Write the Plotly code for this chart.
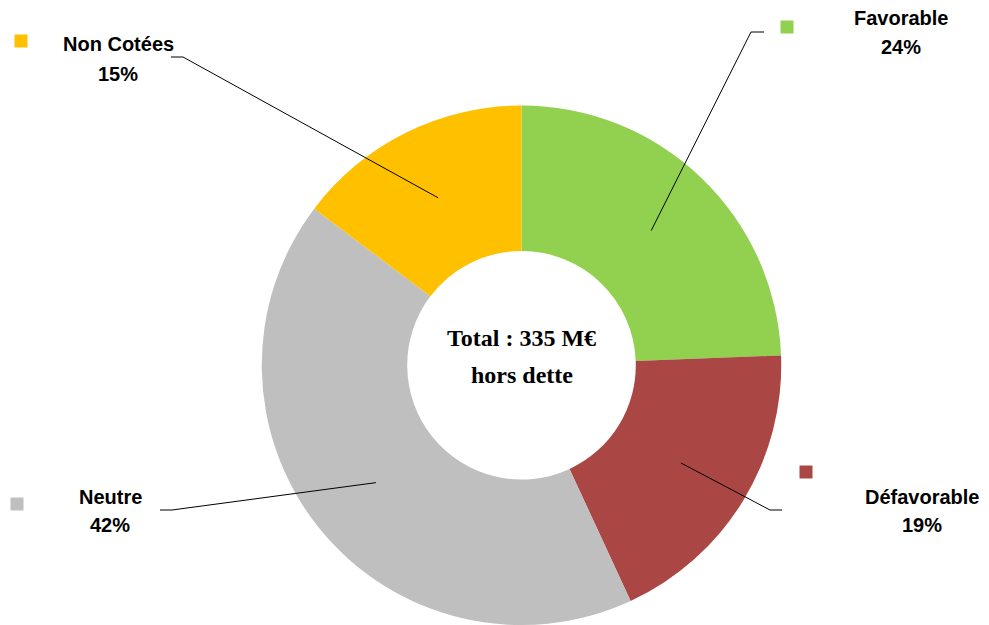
import math
import plotly.graph_objects as go

categories = ["Favorable", "Défavorable", "Neutre", "Non Cotées"]
values = [24.4, 18.7, 42.2, 14.7]
colors = ["#92D050", "#AA4643", "#BFBFBF", "#FFC000"]
center_lines = ["Total : 335 M€", "hors dette"]

W, H = 989, 625
CX, CY, R = 521.5, 365.25, 259.75
HOLE = 0.44

def px(x):
    return x / W

def py(y):
    return 1 - y / H

fig = go.Figure(go.Pie(
    labels=categories, values=values, sort=False, direction="clockwise",
    rotation=0, hole=HOLE, marker=dict(colors=colors, line=dict(width=0)),
    textinfo="none", hoverinfo="label+percent", showlegend=False,
    domain=dict(x=[px(CX - R), px(CX + R)], y=[max(0, py(CY + R)), py(CY - R)]),
))

# label layout: (label x, name y, pct y, marker x, marker y, elbow x, elbow y, end x)
label_layout = {
    "Favorable":   (901, 18, 47, 787, 27, 751, 32, 764),
    "Défavorable": (922, 497, 525, 806, 472, 770, 510, 782),
    "Neutre":      (110, 497, 525, 17, 504, 172, 510, 160),
    "Non Cotées":  (118, 44, 74, 21, 41, 183, 57, 171),
}

total = sum(values)
cum = 0
shapes = []
annotations = []
for cat, val, col in zip(categories, values, colors):
    mid = (cum + val / 2) / total * 2 * math.pi
    cum += val
    rr = R * (1 + HOLE) / 2
    ax = CX + rr * math.sin(mid)
    ay = CY - rr * math.cos(mid)
    lx, ny, pyy, mx, my, ex, ey, endx = label_layout[cat]
    pct = round(val / total * 100)
    shapes.append(dict(
        type="path", xref="paper", yref="paper",
        path=f"M {px(ax)} {py(ay)} L {px(ex)} {py(ey)} L {px(endx)} {py(ey)}",
        line=dict(color="black", width=1),
    ))
    shapes.append(dict(
        type="rect", xref="paper", yref="paper",
        x0=px(mx - 6.5), x1=px(mx + 6.5), y0=py(my + 6.5), y1=py(my - 6.5),
        fillcolor=col, line=dict(width=0),
    ))
    for text, yy in ((cat, ny), (f"{pct}%", pyy)):
        annotations.append(dict(
            x=px(lx), y=py(yy), xref="paper", yref="paper", text=f"<b>{text}</b>",
            showarrow=False, xanchor="center", yanchor="middle",
            font=dict(family="Liberation Sans", size=20, color="black"),
        ))

for text, yy in zip(center_lines, (338, 375)):
    annotations.append(dict(
        x=px(CX), y=py(yy), xref="paper", yref="paper", text=f"<b>{text}</b>",
        showarrow=False, xanchor="center", yanchor="middle",
        font=dict(family="Liberation Serif", size=24, color="black"),
    ))

fig.update_layout(
    width=W, height=H, margin=dict(l=0, r=0, t=0, b=0),
    paper_bgcolor="white", plot_bgcolor="white",
    shapes=shapes, annotations=annotations,
)
fig.write_html(
    "out.html",
    config={"displayModeBar": False},
    post_script="document.body.style.margin='0';document.body.style.padding='0';",
)
